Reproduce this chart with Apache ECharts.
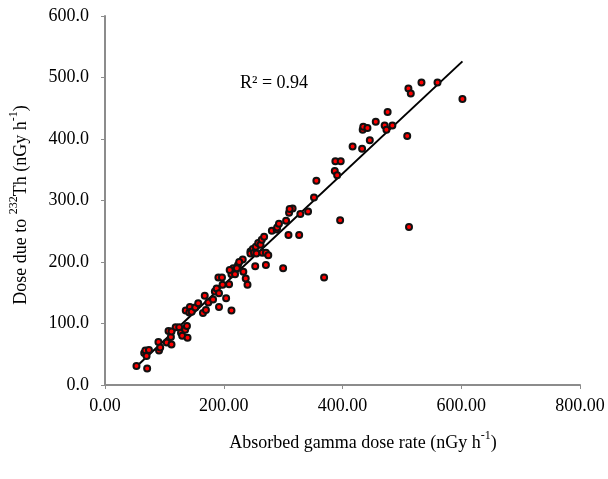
<!DOCTYPE html>
<html>
<head>
<meta charset="utf-8">
<script src="https://cdn.jsdelivr.net/npm/echarts@6/dist/echarts.min.js"></script>
<style>html,body{margin:0;padding:0;background:#fff;}#c{width:608px;height:479px;}</style>
</head>
<body>
<div id="c"></div>
<script>
// Absorbed gamma dose rate (nGy/h)
const xVals = [53,71,66,68,74,70,90,91,93,104,107,111,112,119,125,128,130,135,138,139,112,
  136,143,142,146,152,157,165,170,168,174,182,185,188,192,192,191,197,198,204,209,213,213,216,219,224,232,233,237,240,245,253,
  210,222,226,245,249,251,254,255,258,262,264,265,268,271,275,281,289,290,293,305,310,316,329,342,352,271,300,309,327,
  311,356,387,391,388,397,396,417,433,434,435,442,446,456,471,474,484,476,509,511,515,533,560,602,512,369];
// Dose due to 232Th (nGy/h)
const yVals = [31,27,52,56,57,47,70,56,61,69,88,78,66,94,94,85,80,90,96,77,87,
  121,127,118,119,126,133,117,122,145,134,139,152,157,149,127,175,175,163,141,164,121,180,190,180,195,204,184,173,163,217,193,
  187,190,200,214,221,215,225,214,231,228,236,215,241,215,211,251,253,256,262,267,280,287,278,282,305,195,190,244,244,
  286,332,348,341,364,364,268,388,384,415,420,418,398,428,422,415,422,444,405,482,474,492,492,465,257,175];
// Linear trend line
const trendSlope = 0.904;
const trendIntercept = -18;
const rSquaredLabel = 'R² = 0.94';
const xTicks = {min: 0, max: 800, interval: 200};
const yTicks = {min: 0, max: 600, interval: 100};

const pts = xVals.map((x, i) => [x, yVals[i]]);
const xMin = Math.min(...xVals), xMax = Math.max(...xVals);
const trend = [[xMin, trendSlope * xMin + trendIntercept], [xMax, trendSlope * xMax + trendIntercept]];

const FONT = "'Liberation Serif','Times New Roman',serif";
const chart = echarts.init(document.getElementById('c'), null, {renderer: 'canvas'});
chart.setOption({
  animation: false,
  backgroundColor: '#fff',
  grid: {left: 105, right: 28, top: 16, bottom: 94, containLabel: false},
  xAxis: {
    type: 'value', min: xTicks.min, max: xTicks.max, interval: xTicks.interval,
    splitLine: {show: false},
    axisLine: {show: true, onZero: false, lineStyle: {color: '#8c8c8c', width: 2}},
    axisTick: {show: true, inside: false, length: 4, lineStyle: {color: '#8c8c8c', width: 1}},
    axisLabel: {margin: 12, color: '#000', fontFamily: FONT, fontSize: 18, formatter: v => v.toFixed(2)}
  },
  yAxis: {
    type: 'value', min: yTicks.min, max: yTicks.max, interval: yTicks.interval,
    splitLine: {show: false},
    axisLine: {show: true, onZero: false, lineStyle: {color: '#8c8c8c', width: 2}},
    axisTick: {show: true, inside: false, length: 4, lineStyle: {color: '#8c8c8c', width: 1}},
    axisLabel: {margin: 16, color: '#000', fontFamily: FONT, fontSize: 18, formatter: v => v.toFixed(1)}
  },
  series: [
    {type: 'line', data: trend, symbol: 'none', lineStyle: {color: '#000', width: 2}, z: 2, silent: true},
    {type: 'scatter', data: pts, symbol: 'circle', symbolSize: 6,
     itemStyle: {color: '#ff0000', borderColor: '#111', borderWidth: 2, opacity: 1}, z: 3}
  ],
  graphic: [
    {type: 'text', left: 240, top: 74, style: {text: rSquaredLabel, font: '18px ' + FONT, fill: '#000'}},
    {type: 'text', x: 363, y: 441, style: {
      text: '{n|Absorbed gamma dose rate (nGy h}{s|-1}{n|)}', align: 'center', verticalAlign: 'middle',
      rich: {n: {fontFamily: FONT, fontSize: 18, fill: '#000', lineHeight: 22, verticalAlign: 'bottom'},
             s: {fontFamily: FONT, fontSize: 12, fill: '#000', lineHeight: 22, verticalAlign: 'top'}}}},
    {type: 'text', x: 19, y: 205, rotation: Math.PI / 2, style: {
      text: '{n|Dose due to }{s|232}{n|Th (nGy h}{s|-1}{n|)}', align: 'center', verticalAlign: 'middle',
      rich: {n: {fontFamily: FONT, fontSize: 18, fill: '#000', lineHeight: 22, verticalAlign: 'bottom'},
             s: {fontFamily: FONT, fontSize: 12, fill: '#000', lineHeight: 22, verticalAlign: 'top'}}}}
  ]
});
</script>
</body>
</html>
